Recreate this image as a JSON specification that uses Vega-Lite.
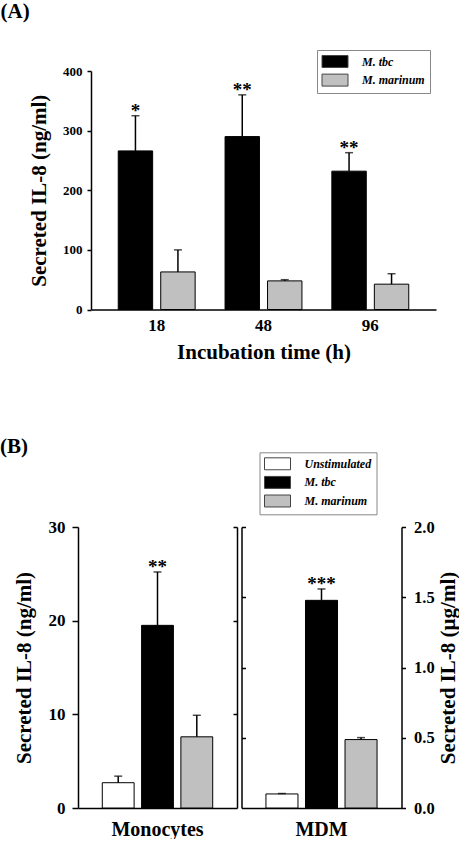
{
  "$schema": "https://vega.github.io/schema/vega-lite/v6.json",
  "padding": 0,
  "config": {
    "font": "Liberation Serif",
    "view": {"stroke": null},
    "axis": {"labelFontWeight": "bold", "titleFontWeight": "bold", "labelColor": "black", "titleColor": "black", "domainColor": "black", "tickColor": "black", "grid": false, "domainWidth": 1.5, "tickWidth": 1.5},
    "title": {"color": "black", "fontWeight": "bold", "fontSize": 21},
    "legend": {"title": null, "symbolType": "M-2,-0.92H2V0.92H-2Z", "symbolSize": 169, "symbolOffset": 6.5, "labelOffset": 20, "rowPadding": 2.6, "padding": 4.5, "strokeColor": "#888888", "fillColor": "white", "labelFontSize": 12, "labelFontWeight": "bold", "labelFontStyle": "italic", "labelColor": "black", "symbolStrokeColor": "#444444", "symbolStrokeWidth": 1, "labelLimit": 0}
  },
  "concat": [
    {
      "title": {"text": "(A)", "anchor": "start", "frame": "bounds", "dx": -28, "offset": 28},
      "width": 358,
      "height": 238.5,
      "data": {"values": [
        {"time": "18", "series": "M. tbc", "value": 266, "upper": 325, "sig": "*"},
        {"time": "18", "series": "M. marinum", "value": 63, "upper": 100, "sig": ""},
        {"time": "48", "series": "M. tbc", "value": 290, "upper": 360, "sig": "**"},
        {"time": "48", "series": "M. marinum", "value": 48, "upper": 50, "sig": ""},
        {"time": "96", "series": "M. tbc", "value": 232, "upper": 263, "sig": "**"},
        {"time": "96", "series": "M. marinum", "value": 42.5, "upper": 60, "sig": ""}
      ]},
      "encoding": {
        "x": {"field": "time", "type": "nominal", "sort": ["18", "48", "96"], "scale": {"domain": ["18", "48", "96"], "range": [13, 358], "paddingInner": 0.28, "paddingOuter": 0.255}, "axis": {"title": "Incubation time (h)", "labelAngle": 0, "ticks": false, "tickSize": 0, "labelFontSize": 17, "labelPadding": 8, "titleFontSize": 21, "titlePadding": 8}},
        "xOffset": {"field": "series", "type": "nominal", "scale": {"domain": ["M. tbc", "M. marinum"], "paddingInner": 0.19, "paddingOuter": 0}}
      },
      "layer": [
        {"mark": {"type": "bar", "stroke": "black", "strokeWidth": 1},
         "encoding": {
           "y": {"field": "value", "type": "quantitative", "scale": {"domain": [0, 400]}, "axis": {"values": [0, 100, 200, 300, 400], "offset": -13, "title": "Secreted IL-8 (ng/ml)", "labelFontSize": 13, "labelPadding": 5, "tickSize": 4, "titleFontSize": 21, "titlePadding": 13}},
           "fill": {"field": "series", "type": "nominal", "scale": {"domain": ["M. tbc", "M. marinum"], "range": ["black", "#c0c0c0"]}, "legend": {"orient": "none", "legendX": 239, "legendY": -21}}
         }},
        {"mark": {"type": "rule", "color": "black", "strokeWidth": 1.5},
         "encoding": {"y": {"field": "value", "type": "quantitative"}, "y2": {"field": "upper"}}},
        {"mark": {"type": "tick", "color": "black", "thickness": 1.5, "size": 8},
         "encoding": {"y": {"field": "upper", "type": "quantitative"}}},
        {"transform": [{"filter": "datum.sig != ''"}],
         "mark": {"type": "text", "fontSize": 19, "fontWeight": "bold", "baseline": "alphabetic", "dy": 1, "color": "black"},
         "encoding": {"y": {"field": "upper", "type": "quantitative"}, "text": {"field": "sig"}}}
      ]
    },
    {
      "title": {"text": "(B)", "anchor": "start", "frame": "bounds", "dx": -13, "offset": -5},
      "spacing": 2.5,
      "hconcat": [
        {
          "width": 159,
          "height": 281,
          "data": {"values": [
            {"cell": "Monocytes", "series": "Unstimulated", "value": 2.7, "upper": 3.4, "sig": ""},
            {"cell": "Monocytes", "series": "M. tbc", "value": 19.5, "upper": 25.2, "sig": "**"},
            {"cell": "Monocytes", "series": "M. marinum", "value": 7.6, "upper": 9.9, "sig": ""}
          ]},
          "encoding": {
            "x": {"field": "cell", "type": "nominal", "scale": {"paddingInner": 0, "paddingOuter": 0.22}, "axis": {"title": null, "labelAngle": 0, "ticks": false, "tickSize": 0, "labelFontSize": 20, "labelPadding": 11}},
            "xOffset": {"field": "series", "type": "nominal", "scale": {"domain": ["Unstimulated", "M. tbc", "M. marinum"], "paddingInner": 0.19, "paddingOuter": 0}}
          },
          "layer": [
            {"mark": {"type": "bar", "stroke": "black", "strokeWidth": 1},
             "encoding": {
               "y": {"field": "value", "type": "quantitative", "scale": {"domain": [0, 30]}, "axis": {"orient": "left", "values": [0, 10, 20, 30], "title": "Secreted IL-8 (ng/ml)", "labelFontSize": 17, "labelPadding": 7, "tickSize": 6, "titleFontSize": 21, "titlePadding": 14}},
               "fill": {"field": "series", "type": "nominal", "scale": {"domain": ["Unstimulated", "M. tbc", "M. marinum"], "range": ["white", "black", "#c0c0c0"]}, "legend": null}
             }},
            {"mark": {"type": "rule", "color": "black", "strokeWidth": 1.5},
             "encoding": {"y": {"field": "value", "type": "quantitative", "axis": {"orient": "right", "values": [10, 20, 30], "labels": false, "tickSize": -4, "title": null}}, "y2": {"field": "upper"}}},
            {"mark": {"type": "tick", "color": "black", "thickness": 1.5, "size": 8},
             "encoding": {"y": {"field": "upper", "type": "quantitative", "axis": null}}},
            {"transform": [{"filter": "datum.sig != ''"}],
             "mark": {"type": "text", "fontSize": 19, "fontWeight": "bold", "baseline": "alphabetic", "dy": 1, "color": "black"},
             "encoding": {"y": {"field": "upper", "type": "quantitative", "axis": null}, "text": {"field": "sig"}}}
          ],
          "resolve": {"axis": {"y": "independent"}}
        },
        {
          "width": 160,
          "height": 281,
          "data": {"values": [
            {"cell": "MDM", "series": "Unstimulated", "value": 0.1, "upper": 0.103, "sig": ""},
            {"cell": "MDM", "series": "M. tbc", "value": 1.478, "upper": 1.559, "sig": "***"},
            {"cell": "MDM", "series": "M. marinum", "value": 0.487, "upper": 0.501, "sig": ""}
          ]},
          "encoding": {
            "x": {"field": "cell", "type": "nominal", "scale": {"paddingInner": 0, "paddingOuter": 0.22}, "axis": {"title": null, "labelAngle": 0, "ticks": false, "tickSize": 0, "labelFontSize": 20, "labelPadding": 11}},
            "xOffset": {"field": "series", "type": "nominal", "scale": {"domain": ["Unstimulated", "M. tbc", "M. marinum"], "paddingInner": 0.19, "paddingOuter": 0}}
          },
          "layer": [
            {"mark": {"type": "bar", "stroke": "black", "strokeWidth": 1},
             "encoding": {
               "y": {"field": "value", "type": "quantitative", "scale": {"domain": [0, 2]}, "axis": {"orient": "right", "values": [0, 0.5, 1, 1.5, 2], "format": ".1f", "title": "Secreted IL-8 (µg/ml)", "titleAngle": 270, "labelFontSize": 16.5, "labelPadding": 8, "tickSize": 4, "titleFontSize": 21, "titlePadding": 24}},
               "fill": {"field": "series", "type": "nominal", "scale": {"domain": ["Unstimulated", "M. tbc", "M. marinum"], "range": ["white", "black", "#c0c0c0"]}, "legend": {"orient": "none", "legendX": 18, "legendY": -74.7}}
             }},
            {"mark": {"type": "rule", "color": "black", "strokeWidth": 1.5},
             "encoding": {"y": {"field": "value", "type": "quantitative", "axis": {"orient": "left", "values": [0.5, 1, 1.5, 2], "labels": false, "tickSize": -4, "title": null}}, "y2": {"field": "upper"}}},
            {"mark": {"type": "tick", "color": "black", "thickness": 1.5, "size": 8},
             "encoding": {"y": {"field": "upper", "type": "quantitative", "axis": null}}},
            {"transform": [{"filter": "datum.sig != ''"}],
             "mark": {"type": "text", "fontSize": 19, "fontWeight": "bold", "baseline": "alphabetic", "dy": 1, "color": "black"},
             "encoding": {"y": {"field": "upper", "type": "quantitative", "axis": null}, "text": {"field": "sig"}}}
          ],
          "resolve": {"axis": {"y": "independent"}}
        }
      ],
      "resolve": {"scale": {"fill": "independent", "xOffset": "independent"}, "legend": {"fill": "independent"}}
    }
  ],
  "columns": 1,
  "spacing": 72,
  "resolve": {"scale": {"fill": "independent", "xOffset": "independent"}, "legend": {"fill": "independent"}}
}
